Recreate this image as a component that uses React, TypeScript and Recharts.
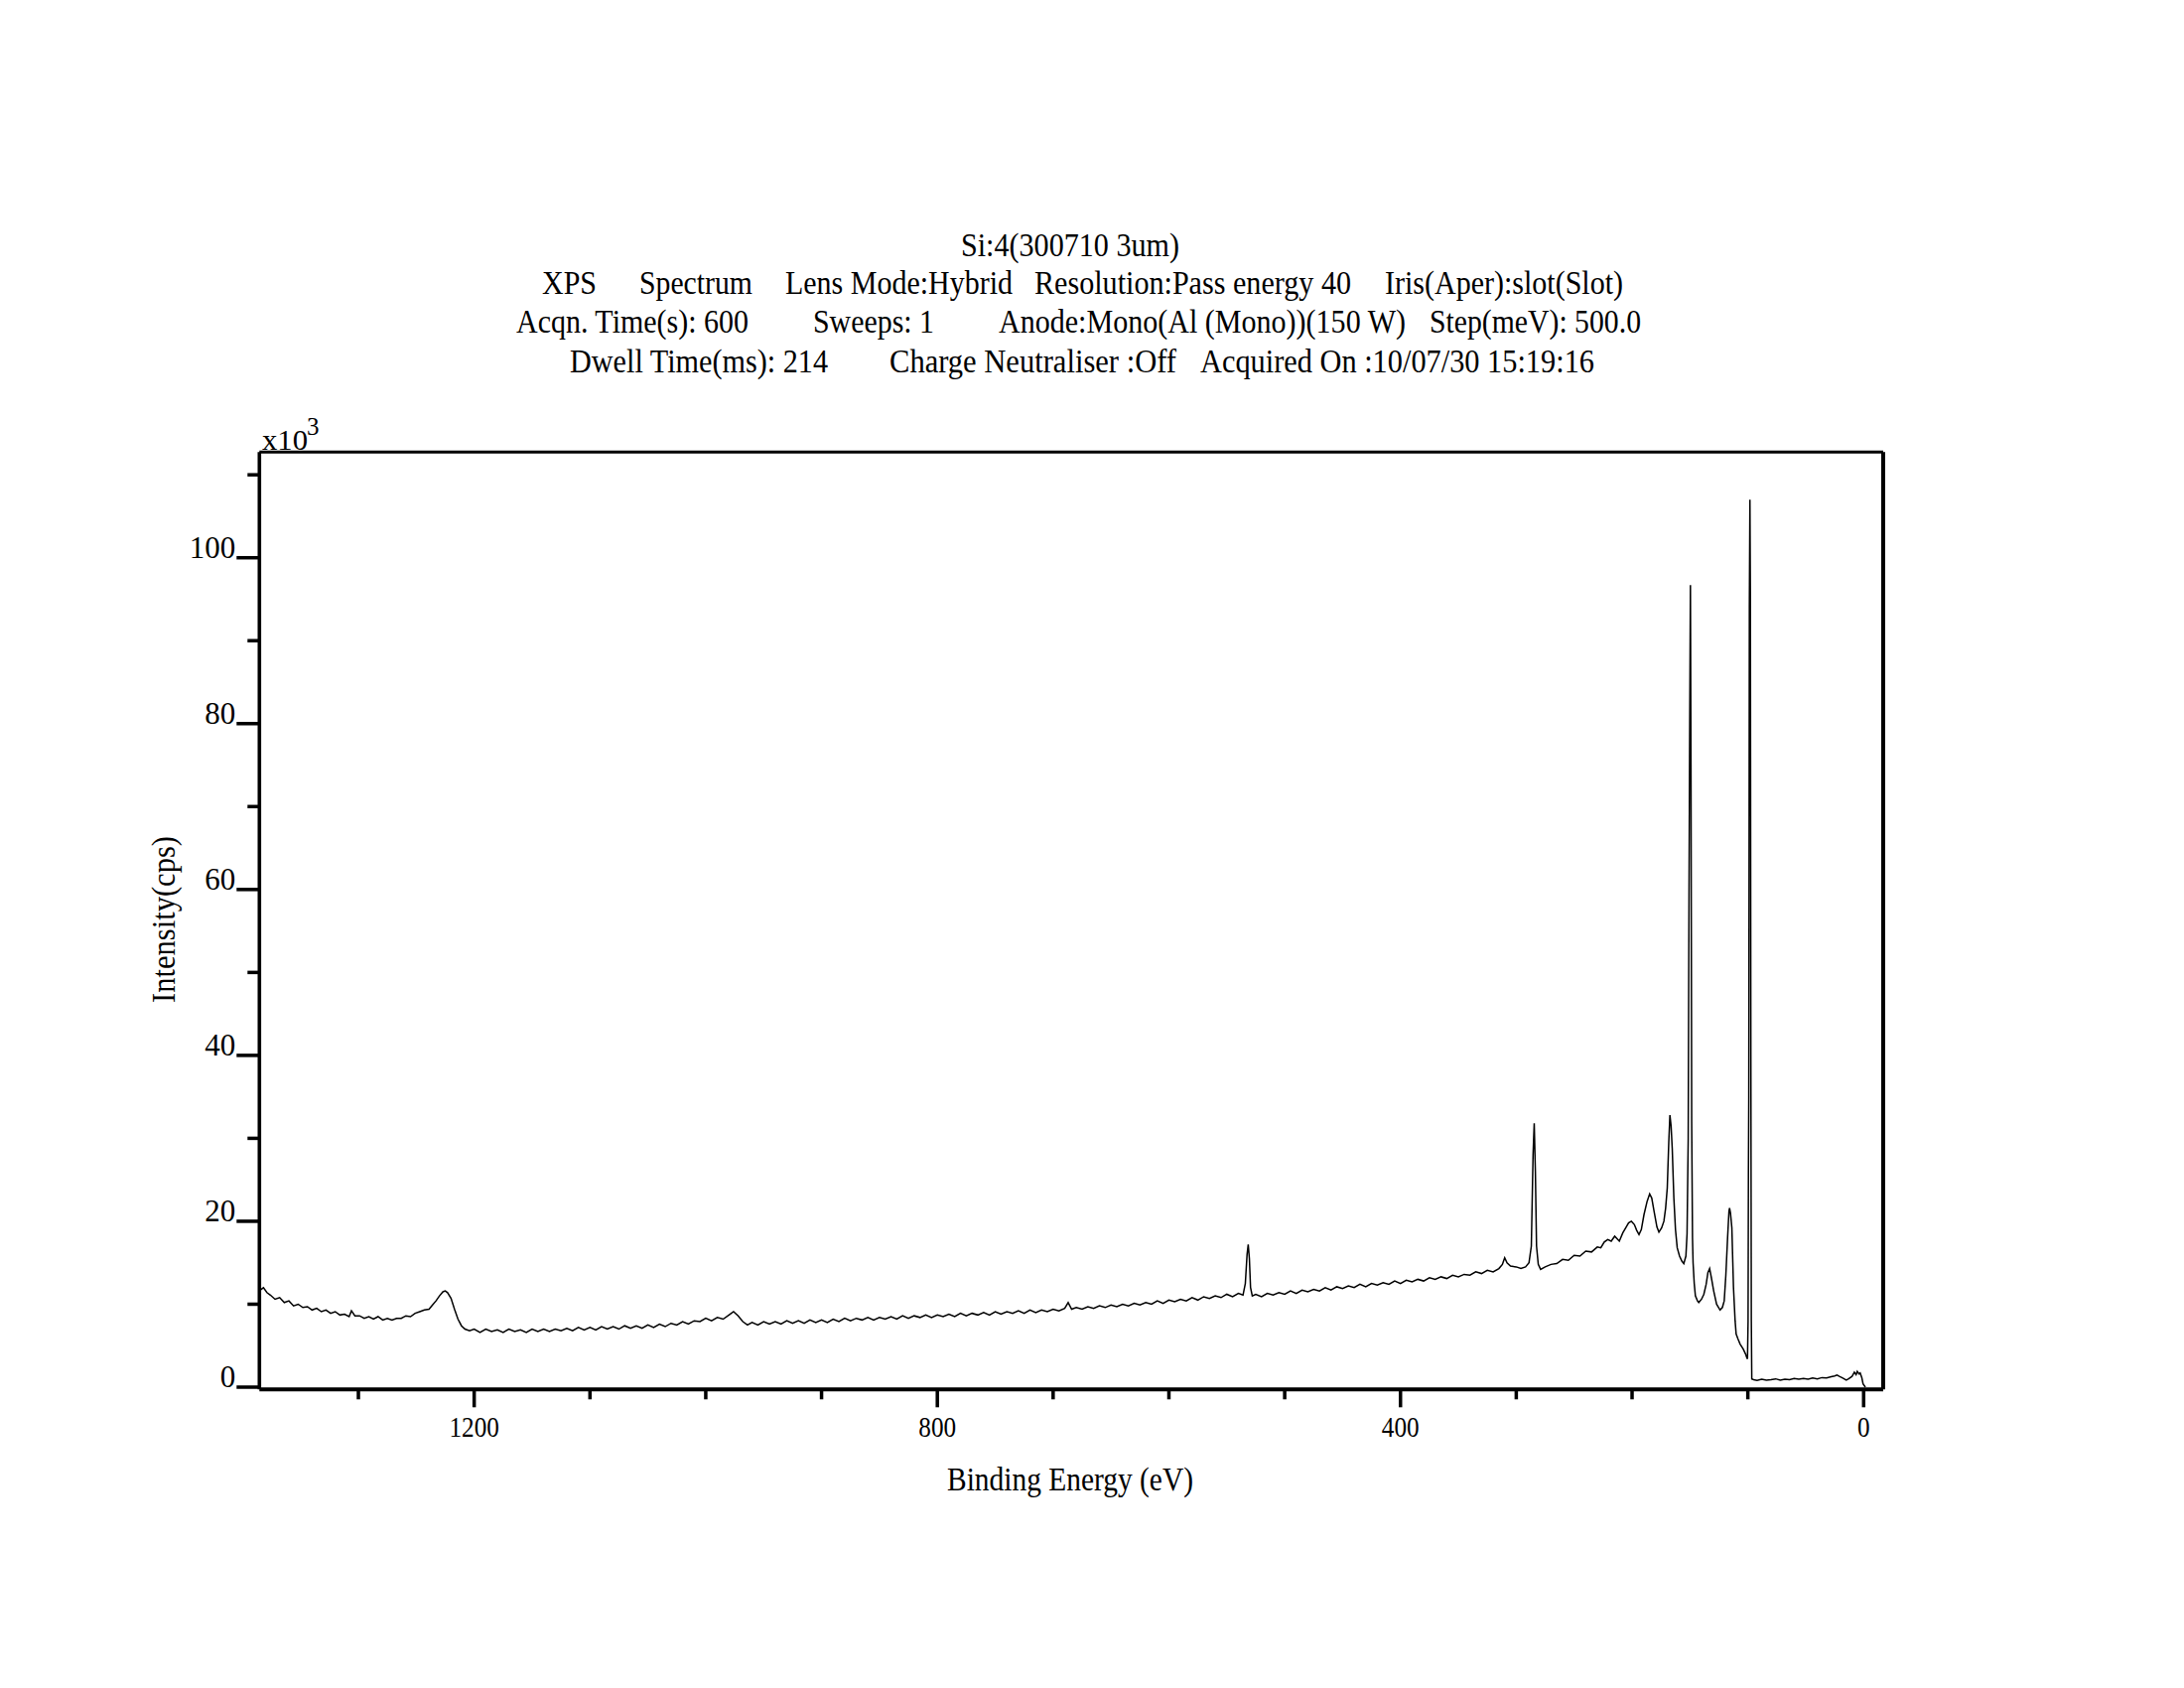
import React from 'react';
import { LineChart, Line, XAxis, YAxis, ReferenceLine } from 'recharts';

// [binding energy (eV), intensity (x10^3 cps)]
const regionHighBE: [number, number][] = [
  [1385, 11.7], [1382, 12.0], [1379, 11.4], [1376, 11.1], [1372, 10.6], [1368, 10.8], [1364, 10.2],
  [1360, 10.4], [1356, 9.8], [1352, 10.0], [1348, 9.6], [1344, 9.7], [1340, 9.3], [1336, 9.5],
  [1332, 9.1], [1328, 9.3], [1324, 8.9], [1320, 9.1], [1316, 8.7], [1312, 8.8], [1308, 8.5],
  [1306, 9.2], [1303, 8.6], [1299, 8.6], [1295, 8.3], [1291, 8.5], [1287, 8.2], [1283, 8.5],
  [1279, 8.1], [1275, 8.3], [1271, 8.1], [1267, 8.3], [1263, 8.3], [1259, 8.6], [1255, 8.5],
  [1251, 8.9], [1247, 9.1], [1243, 9.3], [1239, 9.4], [1236, 9.9], [1233, 10.4], [1230, 11.0],
  [1227, 11.5], [1225, 11.6], [1223, 11.4], [1220, 10.7], [1217, 9.4], [1214, 8.2], [1211, 7.4],
  [1208, 7.0], [1204, 6.8], [1200, 7.0],
];

const regionMidBE: [number, number][] = [
  [1195, 6.6], [1190, 7.0], [1185, 6.7], [1180, 6.9], [1175, 6.6], [1170, 7.0], [1165, 6.7],
  [1160, 6.9], [1155, 6.6], [1150, 7.0], [1145, 6.7], [1140, 7.0], [1135, 6.7], [1130, 7.0],
  [1125, 6.8], [1120, 7.1], [1115, 6.8], [1110, 7.2], [1105, 6.9], [1100, 7.2], [1095, 6.9],
  [1090, 7.3], [1085, 7.0], [1080, 7.3], [1075, 7.0], [1070, 7.4], [1065, 7.1], [1060, 7.4],
  [1055, 7.1], [1050, 7.5], [1045, 7.2], [1040, 7.6], [1035, 7.3], [1030, 7.7], [1025, 7.5],
  [1020, 7.9], [1015, 7.6], [1010, 8.0], [1005, 7.9], [1000, 8.3], [995, 8.0], [990, 8.4],
  [985, 8.2], [980, 8.7], [976, 9.1], [972, 8.6], [968, 7.9], [964, 7.5], [960, 7.8],
  [955, 7.5], [950, 7.9], [945, 7.6], [940, 7.9], [935, 7.6], [930, 8.0], [925, 7.7],
  [920, 8.0], [915, 7.7], [910, 8.1], [905, 7.8], [900, 8.1], [895, 7.8], [890, 8.2],
  [885, 7.9], [880, 8.3], [875, 8.0], [870, 8.3], [865, 8.1], [860, 8.4], [855, 8.1],
  [850, 8.4], [845, 8.2], [840, 8.5], [835, 8.2], [830, 8.6], [825, 8.3], [820, 8.6],
  [815, 8.4], [810, 8.7], [805, 8.4], [800, 8.7],
];

const regionO1s: [number, number][] = [
  [795, 8.5], [790, 8.8], [785, 8.5], [780, 8.9], [775, 8.6], [770, 8.9], [765, 8.7],
  [760, 9.0], [755, 8.7], [750, 9.1], [745, 8.8], [740, 9.1], [735, 8.9], [730, 9.2],
  [725, 8.9], [720, 9.3], [715, 9.0], [710, 9.3], [705, 9.1], [700, 9.4], [695, 9.2],
  [690, 9.5], [687, 10.2], [684, 9.4], [680, 9.6], [675, 9.4], [670, 9.7], [665, 9.5],
  [660, 9.8], [655, 9.6], [650, 9.9], [645, 9.7], [640, 10.0], [635, 9.8], [630, 10.1],
  [625, 9.9], [620, 10.2], [615, 10.0], [610, 10.4], [605, 10.1], [600, 10.5], [595, 10.3],
  [590, 10.6], [585, 10.4], [580, 10.8], [575, 10.5], [570, 10.9], [565, 10.7], [560, 11.0],
  [555, 10.8], [550, 11.2], [545, 10.9], [540, 11.3], [536, 11.1], [534, 12.5], [532.5, 16.0],
  [531.5, 17.2], [530.5, 15.5], [529.5, 12.0], [528, 11.0], [525, 11.2], [520, 10.9],
  [515, 11.3], [510, 11.1], [505, 11.4], [500, 11.2], [495, 11.6], [490, 11.3], [485, 11.7],
  [480, 11.5], [475, 11.8], [470, 11.6], [465, 12.0], [460, 11.7], [455, 12.1], [450, 11.9],
  [445, 12.2], [440, 12.0], [435, 12.4], [430, 12.1], [425, 12.5], [420, 12.3], [415, 12.6],
  [410, 12.4], [405, 12.8], [400, 12.5], [395, 12.9], [390, 12.7], [385, 13.0], [380, 12.8],
  [375, 13.2], [370, 13.0], [365, 13.3], [360, 13.1], [355, 13.5], [350, 13.3], [345, 13.6],
  [340, 13.5], [335, 13.9], [330, 13.7], [325, 14.1], [320, 13.9], [315, 14.3],
];

const regionC1s: [number, number][] = [
  [312, 14.8], [310, 15.6], [308, 15.0], [305, 14.6], [300, 14.5], [296, 14.3], [292, 14.5],
  [289, 15.0], [287, 17.0], [285.5, 28.0], [284.5, 31.8], [283.5, 26.0], [282.5, 17.0],
  [281, 14.8], [279, 14.2], [275, 14.5], [270, 14.8], [265, 14.9], [260, 15.4], [255, 15.3],
  [250, 15.9], [245, 15.8], [240, 16.4], [235, 16.3], [230, 16.9], [227, 16.8], [224, 17.5],
  [221, 17.8], [218, 17.6], [215, 18.2], [211, 17.6], [208, 18.6], [205.5, 19.2], [203, 19.8],
  [200.6, 20.0], [198, 19.6], [196, 18.9], [194, 18.4], [192, 19.0], [189.7, 20.8],
  [187, 22.4], [184.8, 23.3], [183, 22.8], [181, 21.2], [178.5, 19.3], [176.8, 18.7],
  [174.5, 19.2], [172.5, 20.0], [171, 21.6], [169.6, 24.0], [168.3, 29.5], [167.3, 32.8],
  [166.3, 31.5], [165.3, 28.8], [163.9, 22.8], [162.5, 19.0], [161, 16.8], [159, 15.8],
  [157, 15.2], [155.3, 14.9],
];

const regionSi: [number, number][] = [
  [153.5, 15.8], [152.5, 18.5], [151.5, 30.0], [150.8, 60.0], [150.2, 80.0], [149.6, 96.7],
  [149.1, 75.0], [148.5, 32.0], [147.8, 18.0], [147.3, 15.0], [146.3, 12.5], [145.3, 11.0],
  [143.5, 10.4], [142.4, 10.2], [140, 10.6], [138, 11.2], [136, 12.4], [134.5, 13.8],
  [133, 14.3], [131.5, 13.2], [129.5, 11.6], [127, 10.0], [124, 9.3], [122, 9.6],
  [120.4, 10.4], [119, 13.5], [117.5, 18.0], [116.3, 21.2], [115.8, 21.6], [115, 21.0],
  [113.8, 19.2], [112.4, 12.0], [111, 8.0], [110.1, 6.4], [108.5, 5.8], [106.7, 5.2],
  [104, 4.6], [102, 4.0], [101, 3.6], [100.3, 3.4], [99.8, 8.0], [99.5, 25.5], [99.2, 35.0],
  [98.7, 94.0], [98.2, 107.0], [97.8, 95.0], [97.4, 40.0], [97, 8.0], [96.6, 1.0],
];

const regionValence: [number, number][] = [
  [95, 0.9], [92, 0.8], [88, 0.95], [84, 0.85], [80, 0.9], [76, 1.0], [72, 0.85], [68, 0.95],
  [64, 0.9], [60, 1.05], [56, 0.95], [52, 1.05], [48, 0.95], [44, 1.1], [40, 1.0], [36, 1.15],
  [32, 1.1], [28, 1.25], [25, 1.35], [23, 1.45], [21, 1.3], [18, 1.1], [15, 0.85], [13, 1.0],
  [10, 1.3], [8, 1.8], [6.5, 1.5], [5.5, 1.9], [4, 1.6], [3, 1.7], [1.5, 1.1], [0.5, 0.4],
  [-1.5, 0.0],
];

const xTicks = [1300, 1200, 1100, 1000, 900, 800, 700, 600, 500, 400, 300, 200, 100, 0];
const xMajorTicks = [1200, 800, 400, 0];
const yTicks = [0, 10, 20, 30, 40, 50, 60, 70, 80, 90, 100, 110];
const yMajorTicks = [0, 20, 40, 60, 80, 100];
const xDomain: [number, number] = [-16.9, 1385.5];
const yDomain: [number, number] = [-0.275, 112.74];

const titleRows = [
  ['Si:4(300710 3um)'],
  ['XPS', 'Spectrum', 'Lens Mode:Hybrid', 'Resolution:Pass energy 40', 'Iris(Aper):slot(Slot)'],
  ['Acqn. Time(s): 600', 'Sweeps: 1', 'Anode:Mono(Al (Mono))(150 W)', 'Step(meV): 500.0'],
  ['Dwell Time(ms): 214', 'Charge Neutraliser :Off', 'Acquired On :10/07/30 15:19:16'],
];

// layout of the header pieces: [left x, width] per piece, baseline per row
const titleLayout = [
  [[968, 220]],
  [[546, 55], [644, 114], [791, 229], [1042, 319], [1395, 240]],
  [[520, 234], [819, 122], [1006, 410], [1440, 213]],
  [[574, 260], [896, 289], [1209, 397]],
];
const titleBaselines = [258, 296, 335, 375];

const FONT = "'Liberation Serif', 'Times New Roman', serif";

const spectrum = [...regionHighBE, ...regionMidBE, ...regionO1s, ...regionC1s, ...regionSi, ...regionValence]
  .map(([be, kcps]) => ({ be, kcps }));

const XTick = (props: any) => {
  const { x, y, payload } = props;
  const v = payload.value;
  const major = xMajorTicks.includes(v);
  return (
    <g>
      <line x1={x} x2={x} y1={y} y2={y + (major ? 18 : 10)} stroke="#000" strokeWidth={3.5} />
      {major && (
        <text x={x} y={y + 48} textAnchor="middle" fontFamily={FONT} fontSize={30} fill="#000"
          textLength={String(v).length * 12.6} lengthAdjust="spacingAndGlyphs">
          {v}
        </text>
      )}
    </g>
  );
};

const YTick = (props: any) => {
  const { x, y, payload } = props;
  const v = payload.value;
  const major = yMajorTicks.includes(v);
  return (
    <g>
      <line x1={x - (major ? 23 : 12)} x2={x} y1={y} y2={y} stroke="#000" strokeWidth={3.5} />
      {major && (
        <text x={x - 24} y={y} textAnchor="end" fontFamily={FONT} fontSize={31} fill="#000">
          {v}
        </text>
      )}
    </g>
  );
};

export default function App() {
  return (
    <div style={{ position: 'absolute', left: 0, top: 0, width: 2200, height: 1700, background: '#fff' }}>
      <LineChart width={2200} height={1700} data={spectrum}
        margin={{ top: 455.3, right: 303, bottom: 0, left: 0 }}>
        <XAxis dataKey="be" type="number" domain={xDomain} reversed allowDataOverflow
          ticks={xTicks} interval={0} tickSize={0} tickMargin={0} tickLine={false}
          axisLine={{ stroke: '#000', strokeWidth: 4 }} tick={<XTick />} height={300.7} />
        <YAxis type="number" domain={yDomain} allowDataOverflow ticks={yTicks} interval={0}
          tickSize={0} tickMargin={0} tickLine={false} width={261.3}
          axisLine={{ stroke: '#000', strokeWidth: 3.6 }} tick={<YTick />} />
        <ReferenceLine y={yDomain[1]} stroke="#000" strokeWidth={3} ifOverflow="visible" />
        <ReferenceLine x={xDomain[0]} stroke="#000" strokeWidth={4} ifOverflow="visible" />
        <Line type="linear" dataKey="kcps" stroke="#000" strokeWidth={1.5} dot={false}
          isAnimationActive={false} />
      </LineChart>
      <svg width={2200} height={1700} style={{ position: 'absolute', left: 0, top: 0, pointerEvents: 'none' }}>
        {titleRows.map((row, r) =>
          row.map((txt, i) => (
            <text key={`${r}-${i}`} x={titleLayout[r][i][0]} y={titleBaselines[r]} fontFamily={FONT}
              fontSize={33} fill="#000" textLength={titleLayout[r][i][1]} lengthAdjust="spacingAndGlyphs">
              {txt}
            </text>
          ))
        )}
        <text x={264} y={453} fontFamily={FONT} fontSize={30} fill="#000" textLength={46}
          lengthAdjust="spacingAndGlyphs">x10</text>
        <text x={309} y={438} fontFamily={FONT} fontSize={25} fill="#000">3</text>
        <text x={1078} y={1501} textAnchor="middle" fontFamily={FONT} fontSize={33} fill="#000"
          textLength={248} lengthAdjust="spacingAndGlyphs">Binding Energy (eV)</text>
        <text x={175.5} y={926} textAnchor="middle" fontFamily={FONT} fontSize={33} fill="#000"
          textLength={168} lengthAdjust="spacingAndGlyphs" transform="rotate(-90 175.5 926)">
          Intensity(cps)
        </text>
      </svg>
    </div>
  );
}
